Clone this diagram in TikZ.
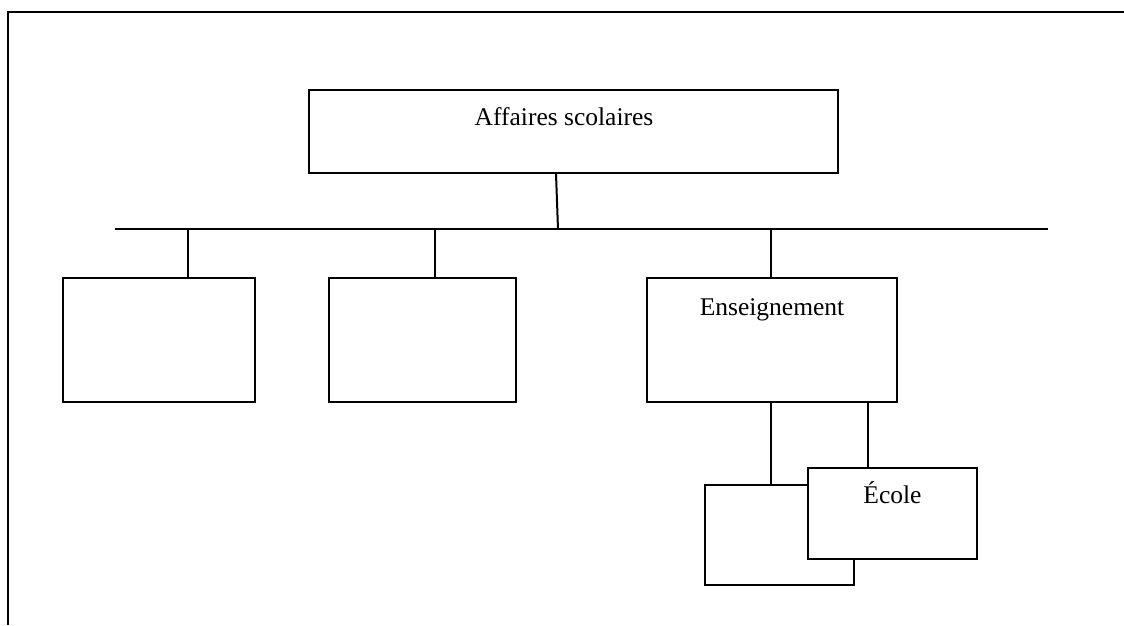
\documentclass[tikz,border=0pt]{standalone}
\usepackage{fontspec}
\setmainfont{Liberation Serif}
\usetikzlibrary{positioning}

\begin{document}
\begin{tikzpicture}[
  x=1pt, y=-1pt,
  every node/.style={font=\fontsize{25.5}{30}\selectfont},
  box/.style={draw, line width=2pt, fill=white, inner sep=0pt},
  lbl/.style={anchor=base, inner sep=0pt},
  link/.style={line width=2pt},
]
\useasboundingbox (0,0) rectangle (1124,625);
\draw[link] (1124,12) -- (8,12) -- (8,625);

% boxes
\node[box, minimum width=529pt, minimum height=83pt]  (affaires) at (573.5,131.5) {};
\node[box, minimum width=192pt, minimum height=124pt] (vide1)    at (159,340)     {};
\node[box, minimum width=187pt, minimum height=124pt] (vide2)    at (422.5,340)   {};
\node[box, minimum width=250pt, minimum height=124pt] (ens)      at (772,340)     {};
\node[box, minimum width=149pt, minimum height=100pt] (vide3)    at (779.5,535)   {};
\node[box, minimum width=169pt, minimum height=91pt]  (ecole)    at (892.5,513.5) {};

\node[lbl] (affairestxt) at (564,125)   {Affaires scolaires};
\node[lbl] (enstxt)      at (772,315)   {Enseignement};
\node[lbl] (ecoletxt)    at (892.5,503) {École};

% bar
\coordinate (barL) at (115,229);
\coordinate (barR) at (1048,229);
\coordinate (barM) at (558,229);
\draw[link] (barL) -- (barR);

\draw[link] ([xshift=-17.5pt]affaires.south) -- (barM);
\draw[link] ([xshift=29pt]vide1.north)   -- ([xshift=29pt]vide1.north |- barL);
\draw[link] ([xshift=12.5pt]vide2.north) -- ([xshift=12.5pt]vide2.north |- barL);
\draw[link] ([xshift=-1pt]ens.north)     -- ([xshift=-1pt]ens.north |- barL);
\draw[link] ([xshift=-8.5pt]vide3.north) -- ([xshift=-8.5pt]vide3.north |- ens.south);
\draw[link] ([xshift=-24.5pt]ecole.north) -- ([xshift=-24.5pt]ecole.north |- ens.south);
\end{tikzpicture}
\end{document}
